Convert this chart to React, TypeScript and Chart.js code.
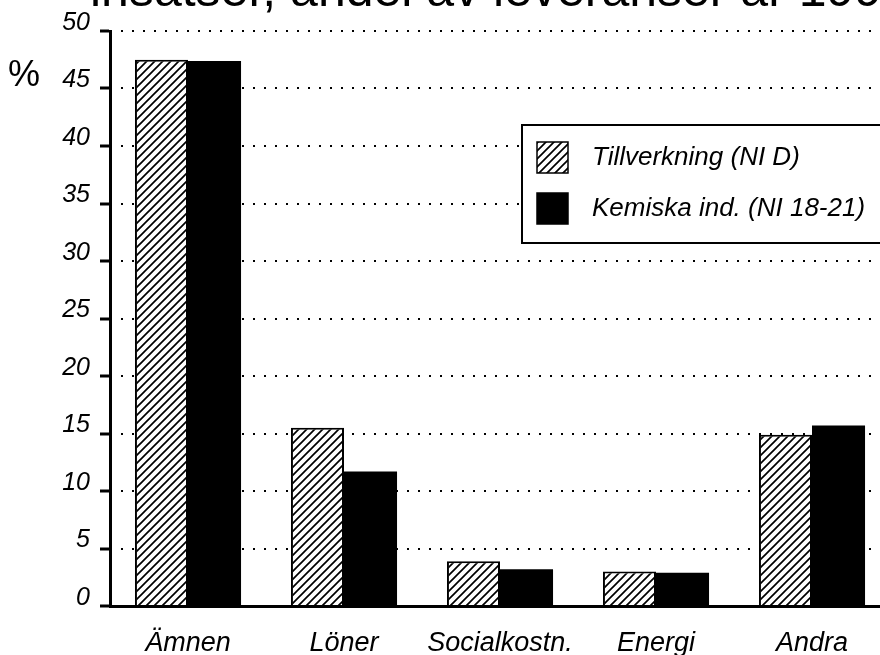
import React, { useEffect, useRef } from "react";
import { Chart, registerables } from "chart.js";

Chart.register(...registerables);

const categories = ["Ämnen", "Löner", "Socialkostn.", "Energi", "Andra"];
const tillverkning = [47.5, 15.5, 3.9, 3.0, 14.9];
const kemiska = [47.4, 11.7, 3.2, 2.9, 15.7];
const seriesLabels = ["Tillverkning (NI D)", "Kemiska ind. (NI 18-21)"];
const yMin = 0;
const yMax = 50;
const yStep = 5;
const titleText = "insatser, andel av leveranser år 1990";
const unitLabel = "%";

const FONT = '"Liberation Sans", Arial, Helvetica, sans-serif';

function makeHatch(ctx: CanvasRenderingContext2D): CanvasPattern | string {
  const size = 8;
  const c = document.createElement("canvas");
  c.width = size;
  c.height = size;
  const g = c.getContext("2d");
  if (!g) return "#fff";
  g.fillStyle = "#fff";
  g.fillRect(0, 0, size, size);
  g.strokeStyle = "#000";
  g.lineWidth = 1.7;
  g.beginPath();
  g.moveTo(-1, size + 1);
  g.lineTo(size + 1, -1);
  g.moveTo(-2, 2);
  g.lineTo(2, -2);
  g.moveTo(size - 2, size + 2);
  g.lineTo(size + 2, size - 2);
  g.stroke();
  return ctx.createPattern(c, "repeat") || "#fff";
}

const decorPlugin = {
  id: "decor",
  afterDraw(chart: any) {
    const ctx: CanvasRenderingContext2D = chart.ctx;
    ctx.save();
    ctx.fillStyle = "#000";
    ctx.textAlign = "left";
    ctx.textBaseline = "alphabetic";
    ctx.font = `50px ${FONT}`;
    ctx.fillText(titleText, 90, 6);
    ctx.font = `36px ${FONT}`;
    ctx.fillText(unitLabel, 8, 86);

    // legend box
    const bx = 522, by = 125, bw = 400, bh = 118;
    ctx.fillStyle = "#fff";
    ctx.fillRect(bx, by, bw, bh);
    ctx.lineWidth = 2;
    ctx.strokeStyle = "#000";
    ctx.strokeRect(bx, by, bw, bh);
    chart.data.datasets.forEach((ds: any, i: number) => {
      const sy = 142 + i * 51;
      ctx.fillStyle = ds.backgroundColor;
      ctx.fillRect(537, sy, 31, 31);
      ctx.lineWidth = 1.5;
      ctx.strokeStyle = "#000";
      ctx.strokeRect(537, sy, 31, 31);
      ctx.fillStyle = "#000";
      ctx.font = `italic 26px ${FONT}`;
      ctx.textBaseline = "middle";
      ctx.fillText(ds.label, 592, sy + 16);
    });
    ctx.restore();
  },
};

export default function App() {
  const canvasRef = useRef<HTMLCanvasElement | null>(null);

  useEffect(() => {
    const canvas = canvasRef.current;
    if (!canvas) return;
    const ctx = canvas.getContext("2d");
    if (!ctx) return;
    const hatch = makeHatch(ctx);

    const chart = new Chart(ctx, {
      type: "bar",
      data: {
        labels: categories,
        datasets: [
          {
            label: seriesLabels[0],
            data: tillverkning,
            backgroundColor: hatch as any,
            borderColor: "#000",
            borderWidth: 2,
            borderSkipped: "bottom",
            categoryPercentage: 0.68,
            barPercentage: 1.0,
          },
          {
            label: seriesLabels[1],
            data: kemiska,
            backgroundColor: "#000",
            borderColor: "#000",
            borderWidth: 0,
            categoryPercentage: 0.68,
            barPercentage: 1.0,
          },
        ],
      },
      options: {
        responsive: false,
        animation: false,
        layout: { padding: { top: 31, left: 0, right: 0, bottom: 0 } },
        plugins: {
          legend: { display: false },
          title: { display: false },
          tooltip: { enabled: false },
        },
        scales: {
          x: {
            afterFit: (s: any) => {
              s.height = 49;
            },
            grid: { display: true, drawOnChartArea: false, drawTicks: false },
            border: { display: true, width: 3, color: "#000" },
            ticks: {
              color: "#000",
              padding: 21,
              font: { family: FONT, size: 27, style: "italic" },
            },
          },
          y: {
            min: yMin,
            max: yMax,
            afterFit: (s: any) => {
              s.width = 110;
            },
            grid: {
              color: "#000",
              lineWidth: 2,
              tickLength: 10,
              tickColor: "#000",
              tickWidth: 3,
              tickBorderDash: [],
            },
            border: { display: true, width: 3, color: "#000", dash: [2, 9], dashOffset: 2 },
            ticks: {
              stepSize: yStep,
              color: "#000",
              padding: 10,
              labelOffset: -8,
              font: { family: FONT, size: 25, style: "italic" },
              callback: (v: any) => String(v),
            },
          },
        },
      },
      plugins: [decorPlugin],
    });

    return () => {
      chart.destroy();
    };
  }, []);

  return (
    <div
      style={{
        position: "fixed",
        left: 0,
        top: 0,
        width: 880,
        height: 655,
        overflow: "hidden",
        background: "#fff",
      }}
    >
      <canvas
        ref={canvasRef}
        width={890}
        height={655}
        style={{ width: 890, height: 655, display: "block" }}
      />
    </div>
  );
}
